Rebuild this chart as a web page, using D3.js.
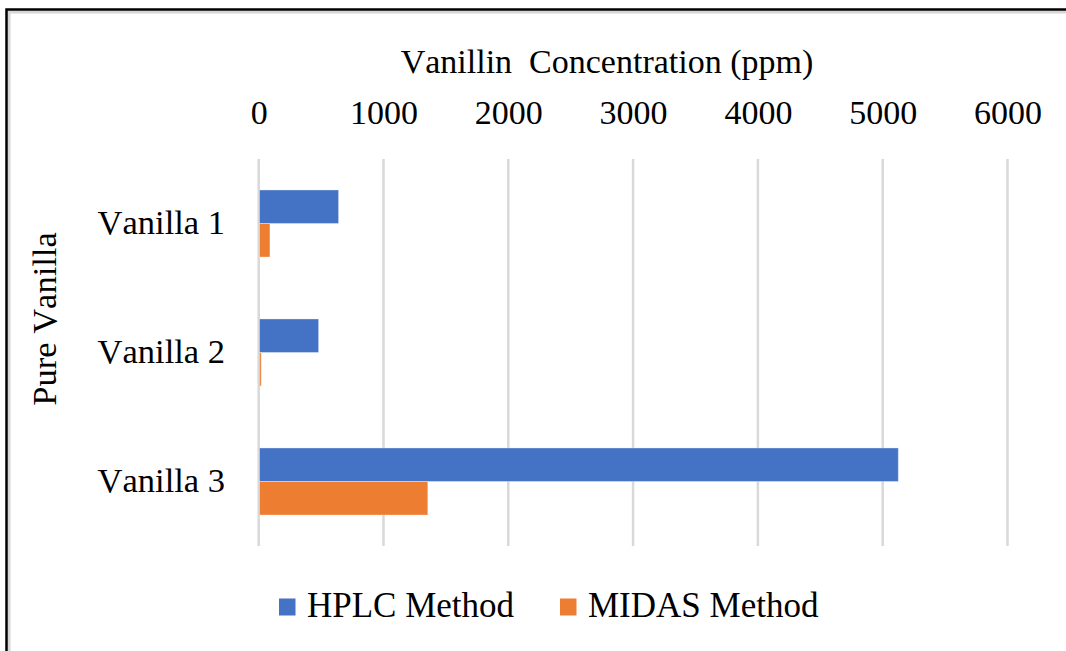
<!DOCTYPE html>
<html>
<head>
<meta charset="utf-8">
<script src="https://cdn.jsdelivr.net/npm/d3@7"></script>
<style>
  html, body { margin: 0; padding: 0; background: #fff; }
  svg { display: block; font-family: "Liberation Serif", "Times New Roman", serif; font-kerning: none; }
  svg text { font-kerning: none; }
</style>
</head>
<body>
<svg id="chart" width="1066" height="651"></svg>
<script>
// Samples and measured vanillin concentrations (ppm)
const categories = ["Vanilla 1", "Vanilla 2", "Vanilla 3"];
const seriesNames = ["HPLC Method", "MIDAS Method"];
const hplcValues = [640, 480, 5125];
const midasValues = [90, 20, 1355];
const xTicks = [0, 1000, 2000, 3000, 4000, 5000, 6000];
const colors = ["#4472c4", "#ed7d31"];

const svg = d3.select("#chart");
const W = 1066, H = 651;

// outer frame with a soft grey inner edge
svg.append("rect").attr("x", 0).attr("y", 0).attr("width", W).attr("height", H).attr("fill", "#fff");
svg.append("path")
  .attr("d", `M9,${H + 5} V12 H${W + 5}`)
  .attr("fill", "none").attr("stroke", "#d6d6d6").attr("stroke-width", 3);
svg.append("path")
  .attr("d", `M6.5,${H + 5} V9.5 H${W + 5}`)
  .attr("fill", "none").attr("stroke", "#000").attr("stroke-width", 2.5);

const plot = { left: 258.7, right: 1007.5, top: 159, bottom: 546 };

const x = d3.scaleLinear().domain([0, 6000]).range([plot.left, plot.right]);
const y0 = d3.scaleBand().domain(categories).range([plot.top, plot.bottom])
  .paddingInner(0.48).paddingOuter(0.24);
const y1 = d3.scaleBand().domain(seriesNames).range([0, y0.bandwidth()]);

// vertical gridlines
svg.append("g").selectAll("line").data(xTicks).join("line")
  .attr("x1", d => x(d)).attr("x2", d => x(d))
  .attr("y1", plot.top).attr("y2", plot.bottom)
  .attr("stroke", "#d9d9d9").attr("stroke-width", 2.5);

// top value axis labels
const axisTop = d3.axisTop(x).tickValues(xTicks).tickSize(0).tickFormat(d3.format("d"));
const gx = svg.append("g").attr("transform", "translate(0,127)").call(axisTop);
gx.select(".domain").remove();
gx.selectAll("text").attr("font-size", 34).attr("font-family", "Liberation Serif")
  .attr("fill", "#000").attr("dy", 0);

// axis title
svg.append("text").attr("x", 607).attr("y", 73).attr("text-anchor", "middle")
  .attr("font-size", 34).attr("fill", "#000").attr("xml:space", "preserve")
  .text("Vanillin  Concentration (ppm)");

// category labels
const axisLeft = d3.axisLeft(y0).tickSize(0).tickPadding(0);
const gy = svg.append("g").attr("transform", "translate(225,0)").call(axisLeft);
gy.select(".domain").remove();
gy.selectAll("text").attr("font-size", 34.5).attr("font-family", "Liberation Serif")
  .attr("fill", "#000").attr("dy", "0.3em");

// category axis title
svg.append("text").attr("transform", "translate(56,319) rotate(-90)")
  .attr("text-anchor", "middle").attr("font-size", 34.5).attr("fill", "#000")
  .text("Pure Vanilla");

// grouped bars
const rows = categories.map((c, i) => ({ cat: c, vals: [hplcValues[i], midasValues[i]] }));
svg.append("g").selectAll("g").data(rows).join("g")
  .attr("transform", d => `translate(0,${y0(d.cat)})`)
  .selectAll("rect").data(d => d.vals.map((v, j) => ({ v, s: seriesNames[j], j })))
  .join("rect")
  .attr("x", x(0) + 0.8)
  .attr("y", d => y1(d.s))
  .attr("width", d => Math.max(0, x(d.v) - x(0) - 0.8))
  .attr("height", y1.bandwidth())
  .attr("fill", d => colors[d.j])
  .attr("stroke", "#ffffff").attr("stroke-opacity", 0.35).attr("stroke-width", 1);

// legend
const legendX = [279, 560];
const lg = svg.append("g").selectAll("g").data(seriesNames).join("g")
  .attr("transform", (d, i) => `translate(${legendX[i]},0)`);
lg.append("rect").attr("x", 0).attr("y", 598.5).attr("width", 16.5).attr("height", 17)
  .attr("fill", (d, i) => colors[i]);
lg.append("text").attr("x", 28).attr("y", 617).attr("font-size", 35).attr("fill", "#000")
  .text(d => d);
</script>
</body>
</html>
